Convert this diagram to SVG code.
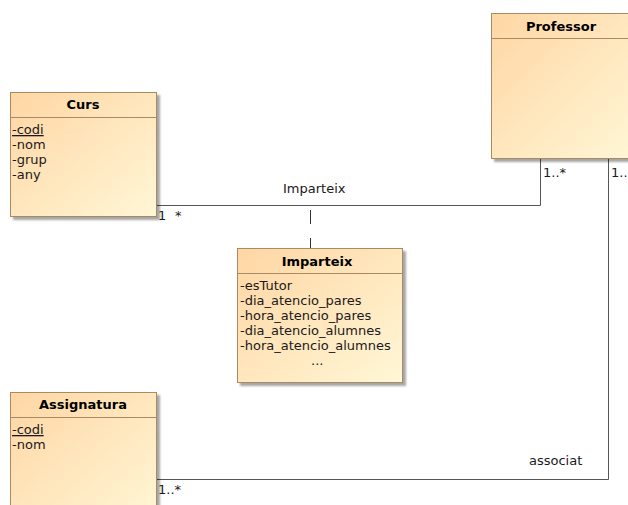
<svg xmlns="http://www.w3.org/2000/svg" width="628" height="505" viewBox="0 0 628 505">
  <defs>
    <linearGradient id="fill" x1="0" y1="0" x2="1" y2="1">
      <stop offset="0" stop-color="#ffd6a4"/>
      <stop offset="1" stop-color="#fff7d6"/>
    </linearGradient>
    <filter id="shadow" x="-5%" y="-5%" width="115%" height="115%">
      <feOffset dx="3" dy="3" in="SourceAlpha" result="o"/>
      <feGaussianBlur in="o" stdDeviation="1" result="b"/>
      <feColorMatrix in="b" type="matrix" values="0 0 0 0 0  0 0 0 0 0  0 0 0 0 0  0 0 0 0.35 0"/>
      <feMerge><feMergeNode/><feMergeNode in="SourceGraphic"/></feMerge>
    </filter>
  </defs>
  <style>
    .box { fill: url(#fill); stroke: #a88a64; stroke-width: 1; filter: url(#shadow); }
    .sep { stroke: #a88a64; stroke-width: 1; }
    .title { font-family: "DejaVu Sans", Verdana, sans-serif; font-size: 13px; font-weight: bold; fill: #000; text-anchor: middle; }
    .attr { font-family: "DejaVu Sans", Verdana, sans-serif; font-size: 13px; fill: #1a1a1a; }
    .lbl { font-family: "DejaVu Sans", Verdana, sans-serif; font-size: 13px; fill: #1a1a1a; }
    .line { fill: none; stroke: #555; stroke-width: 1; }
    .dash { fill: none; stroke: #333; stroke-width: 1; stroke-dasharray: 14 14; }
  </style>

  <g id="connectors">
    <polyline class="line" points="156.5,205.5 540.5,205.5 540.5,159"/>
    <line class="dash" x1="310.5" y1="210" x2="310.5" y2="248"/>
    <polyline class="line" points="157,479.5 608.5,479.5 608.5,159"/>
    <text class="lbl" x="283" y="193">Imparteix</text>
    <text class="lbl" x="158" y="220">1</text>
    <text class="lbl" x="175" y="220">*</text>
    <text class="lbl" x="543" y="177">1..*</text>
    <text class="lbl" x="611" y="177">1..</text>
    <text class="lbl" x="529" y="465">associat</text>
    <text class="lbl" x="158" y="494">1..*</text>
  </g>

  <g id="curs">
    <rect class="box" x="10.5" y="92.5" width="146" height="124"/>
    <line class="sep" x1="10.5" y1="117.5" x2="156.5" y2="117.5"/>
    <text class="title" x="83" y="109">Curs</text>
    <text class="attr" x="12" y="134" text-decoration="underline">-codi</text>
    <text class="attr" x="12" y="149">-nom</text>
    <text class="attr" x="12" y="164">-grup</text>
    <text class="attr" x="12" y="179">-any</text>
  </g>

  <g id="professor">
    <rect class="box" x="491.5" y="13.5" width="145" height="145"/>
    <line class="sep" x1="491.5" y1="38.5" x2="628" y2="38.5"/>
    <text class="title" x="561" y="31">Professor</text>
  </g>

  <g id="imparteix">
    <rect class="box" x="237.5" y="248.5" width="165" height="134"/>
    <line class="sep" x1="237.5" y1="273.5" x2="402.5" y2="273.5"/>
    <text class="title" x="317" y="266">Imparteix</text>
    <text class="attr" x="240" y="290">-esTutor</text>
    <text class="attr" x="240" y="305">-dia_atencio_pares</text>
    <text class="attr" x="240" y="320">-hora_atencio_pares</text>
    <text class="attr" x="240" y="335">-dia_atencio_alumnes</text>
    <text class="attr" x="240" y="350">-hora_atencio_alumnes</text>
    <text class="attr" x="311" y="365">...</text>
  </g>

  <g id="assignatura">
    <rect class="box" x="10.5" y="392.5" width="146" height="130"/>
    <line class="sep" x1="10.5" y1="417.5" x2="156.5" y2="417.5"/>
    <text class="title" x="83" y="409">Assignatura</text>
    <text class="attr" x="12" y="434" text-decoration="underline">-codi</text>
    <text class="attr" x="12" y="449">-nom</text>
  </g>
</svg>
